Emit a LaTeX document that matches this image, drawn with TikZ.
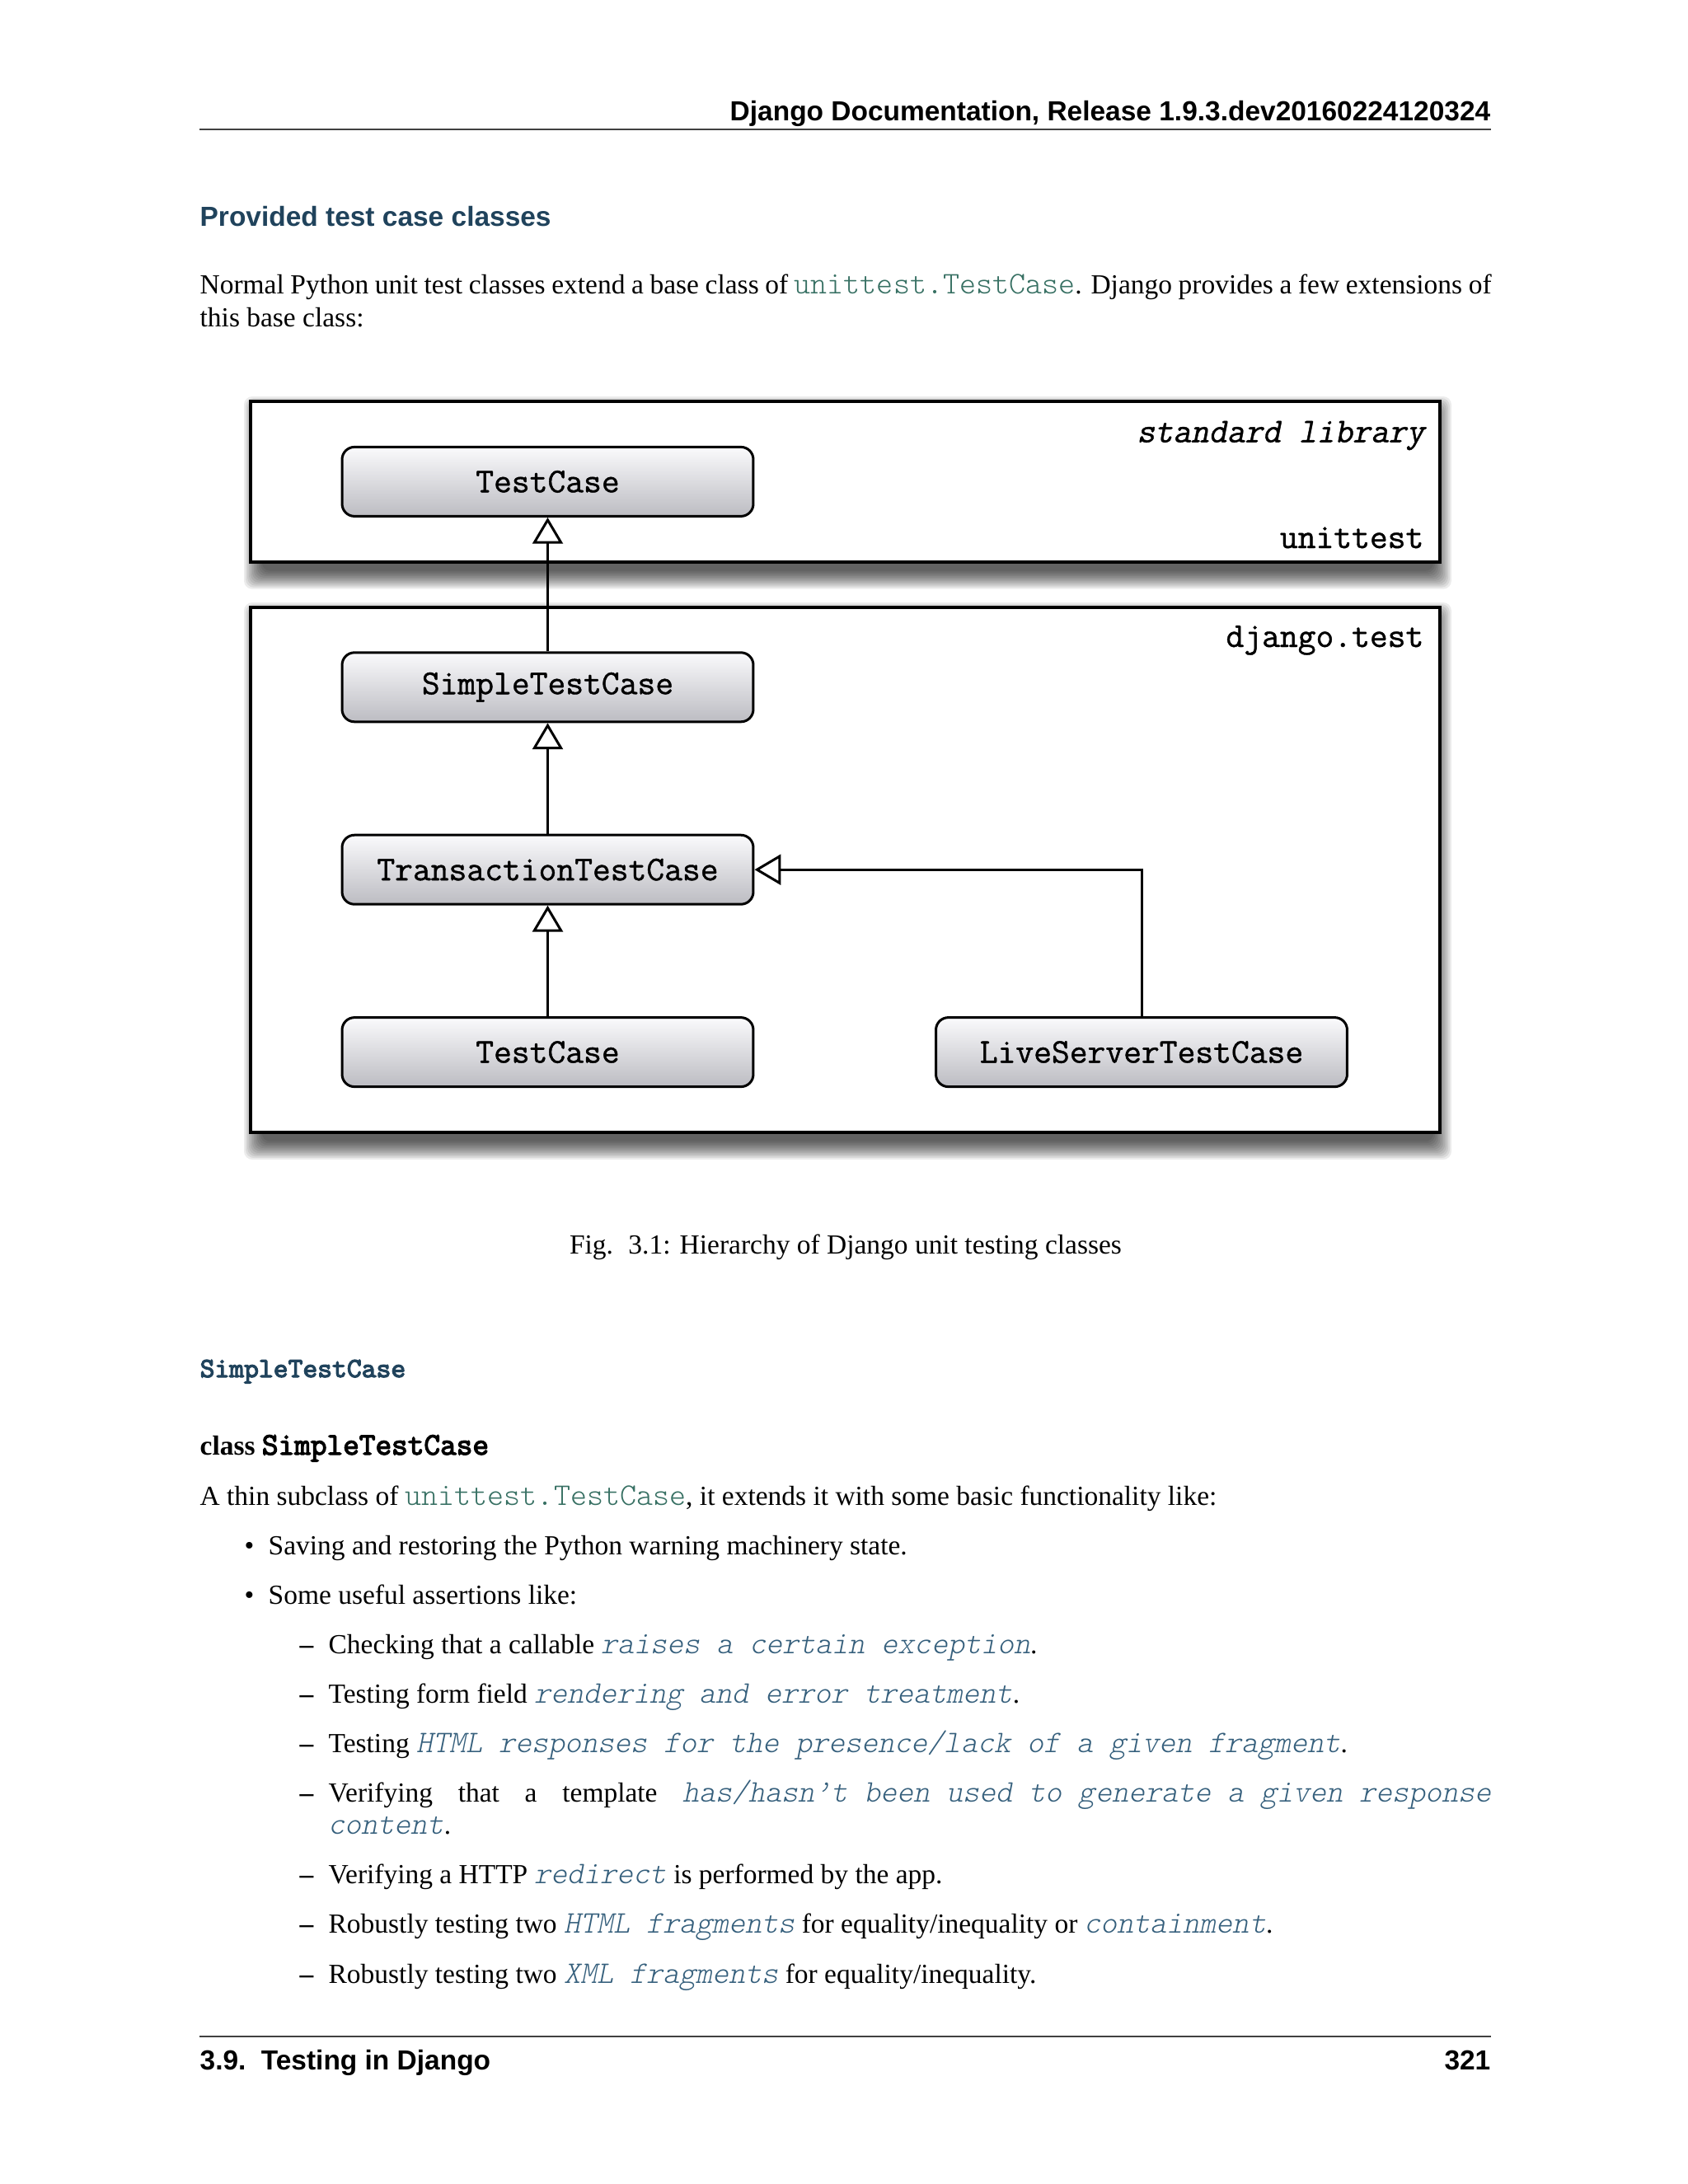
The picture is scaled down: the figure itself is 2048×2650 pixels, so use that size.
\documentclass[tikz,border=0pt]{standalone}
\usepackage{fontspec}
\setmainfont{Liberation Serif}
\setsansfont{Liberation Sans}
\setmonofont[Scale=1.14,WordSpace={1,0,0}]{Latin Modern Mono Light}
\newfontfamily\ttobl[Scale=1.14,FakeSlant=0.2,WordSpace={1,0,0}]{Latin Modern Mono Light}
\newfontfamily\diagtt[FakeBold=1]{Latin Modern Mono}
\newfontfamily\diagsl[FakeBold=1,FakeSlant=0.2]{Latin Modern Mono}
\newfontfamily\ttbf[Scale=1.14,FakeBold=3.5]{Latin Modern Mono}
\usetikzlibrary{arrows.meta}
\definecolor{titlecol}{rgb}{0.126,0.263,0.361}
\definecolor{outerlink}{rgb}{0.216,0.439,0.388}
\definecolor{innerlink}{rgb}{0.208,0.374,0.486}
\definecolor{nodebot}{RGB}{188,188,194}
\definecolor{nodetop}{RGB}{250,250,252}
\newcommand\olink[1]{{\color{outerlink}\ttfamily #1}}
\newcommand\ilink[1]{{\color{innerlink}\ttobl #1}}
\newcommand\softshadow[4]{%
  \foreach \e in {2,4,...,24} {
    \fill[black, opacity=0.075, rounded corners=3pt]
      ({#1+16-\e},{#2+18-\e}) rectangle ({#3-10+\e},{#4+9+\e});
  }}
\tikzset{
  txt/.style={anchor=base west, inner sep=0pt, font=\fontsize{10}{12}\selectfont},
  hdr/.style={inner sep=0pt, font=\sffamily\bfseries\fontsize{10}{12}\selectfont},
  pkgbox/.style={draw=black, fill=white, line width=1.3pt},
  cls/.style={draw=black, line width=0.9pt, rounded corners=4.5pt,
    top color=nodetop, bottom color=nodebot,
    minimum width=149.1pt, minimum height=25.1pt, inner sep=0pt,
    font={\diagtt\fontsize{12.65}{14}\selectfont}},
  lbl/.style={anchor=base east, inner sep=0pt, font={\diagtt\fontsize{12.65}{14}\selectfont}},
  inh/.style={draw=black, line width=0.9pt, -{Triangle[open, width=11pt, length=9.5pt]}},
  rulel/.style={draw=black!75, line width=0.6pt}
}
\begin{document}
\begin{tikzpicture}[x=0.298828pt, y=-0.298828pt]
\fill[white] (0,0) rectangle (2048,2650);
\useasboundingbox (0,0) rectangle (2048,2650);

% header
\node[hdr, anchor=base east] (header) at (1809,146) {Django Documentation, Release 1.9.3.dev20160224120324};
\coordinate (hrl) at (242,157);
\coordinate (hrr) at (1809,157);
\draw[rulel] (hrl) -- (hrr);

% section title
\node[hdr, anchor=base west, text=titlecol] (title) at (242,274) {Provided test case classes};

% paragraph
\node[txt] (p1) at (242,356) {\makebox[468.26pt][s]{Normal Python unit test classes extend a base class of \olink{unittest.TestCase}. Django provides a few extensions of}};
\node[txt] (p2) at (242,396) {this base class:};

% diagram: package boxes with soft shadows
\softshadow{304}{487}{1747}{681.7}
\softshadow{304}{737}{1747}{1374}
\draw[pkgbox] (304,487) rectangle (1747,681.7);
\draw[pkgbox] (304,737) rectangle (1747,1374);

\node[lbl, font={\diagsl\fontsize{12.65}{14}\selectfont}] (stdlib) at (1729,536.6) {standard library};
\node[lbl] (unittestlbl) at (1728,665) {unittest};
\node[lbl] (djangolbl) at (1728,785) {django.test};

% classes
\node[cls] (tc1) at (664.5,584.4) {TestCase};
\node[cls] (simple) at (664.5,833.8) {SimpleTestCase};
\node[cls] (trans) at (664.5,1055.2) {TransactionTestCase};
\node[cls] (tc2) at (664.5,1276.6) {TestCase};
\node[cls] (live) at (1385,1276.6) {LiveServerTestCase};

\draw[inh] (simple.north) -- (tc1.south);
\draw[inh] (trans.north) -- (simple.south);
\draw[inh] (tc2.north) -- (trans.south);
\draw[inh] (live.north) |- (trans.east);

% caption
\node[txt, anchor=base] (caption) at (1026,1521) {Fig.\hspace{0.55em}3.1: Hierarchy of Django unit testing classes};

% SimpleTestCase section
\node[txt, font={\ttbf\fontsize{8.9}{10}\selectfont}, text=titlecol] (stchead) at (242,1671) {SimpleTestCase};
\node[txt] (classline) at (242,1765) {\textbf{class} {\ttbf SimpleTestCase}};
\node[txt] (thin) at (242,1826) {A thin subclass of \olink{unittest.TestCase}, it extends it with some basic functionality like:};

\node[txt] (b1) at (296,1886.5) {\textbullet};
\node[txt] (b1t) at (325,1886.5) {Saving and restoring the Python warning machinery state.};
\node[txt] (b2) at (296,1946) {\textbullet};
\node[txt] (b2t) at (325,1946) {Some useful assertions like:};

\node[txt] (d1) at (363,2006) {\textbf{–}};
\node[txt] (d1t) at (398,2006) {Checking that a callable \ilink{raises a certain exception}.};
\node[txt] (d2) at (363,2066) {\textbf{–}};
\node[txt] (d2t) at (398,2066) {Testing form field \ilink{rendering and error treatment}.};
\node[txt] (d3) at (363,2126) {\textbf{–}};
\node[txt] (d3t) at (398,2126) {Testing \ilink{HTML responses for the presence/lack of a given fragment}.};
\node[txt] (d4) at (363,2186) {\textbf{–}};
\node[txt] (d4t) at (398,2186) {\makebox[421.65pt][s]{Verifying that a template \ilink{has/hasn’t been used to generate a given response}}};
\node[txt] (d4u) at (398,2225) {\ilink{content}.};
\node[txt] (d5) at (363,2285) {\textbf{–}};
\node[txt] (d5t) at (398,2285) {Verifying a HTTP \ilink{redirect} is performed by the app.};
\node[txt] (d6) at (363,2345) {\textbf{–}};
\node[txt] (d6t) at (398,2345) {Robustly testing two \ilink{HTML fragments} for equality/inequality or \ilink{containment}.};
\node[txt] (d7) at (363,2406) {\textbf{–}};
\node[txt] (d7t) at (398,2406) {Robustly testing two \ilink{XML fragments} for equality/inequality.};

% footer
\coordinate (frl) at (242,2471);
\coordinate (frr) at (1809,2471);
\draw[rulel] (frl) -- (frr);
\node[hdr, anchor=base west] (footl) at (242,2511) {3.9.\hspace{0.55em}Testing in Django};
\node[hdr, anchor=base east] (footr) at (1809,2511) {321};
\end{tikzpicture}
\end{document}
